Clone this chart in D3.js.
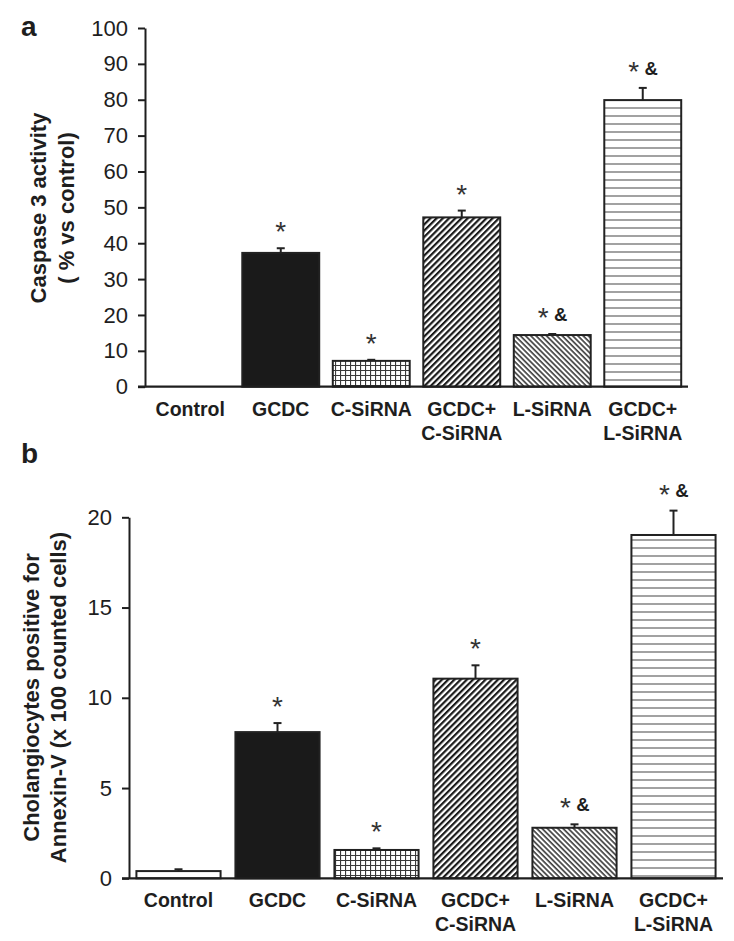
<!DOCTYPE html>
<html><head><meta charset="utf-8">
<script src="https://cdn.jsdelivr.net/npm/d3@7"></script>
<style>body{margin:0;background:#fff} svg{display:block}</style>
</head><body>
<script>
// ---------- data ----------
const categories = ["Control", "GCDC", "C-SiRNA", "GCDC+\nC-SiRNA", "L-SiRNA", "GCDC+\nL-SiRNA"];
const fillKinds = ["white", "solid", "grid", "diagUp", "diagDown", "horiz"];

const caspaseValues = [0, 37.3, 7.2, 47.2, 14.4, 79.9];
const caspaseErrors = [0, 1.3, 0.3, 1.9, 0.3, 3.4];
const caspaseMarks = ["", "*", "*", "*", "*&", "*&"];
const caspaseTicks = [0, 10, 20, 30, 40, 50, 60, 70, 80, 90, 100];

const annexinValues = [0.4, 8.1, 1.57, 11.06, 2.8, 19.02];
const annexinErrors = [0.1, 0.5, 0.09, 0.74, 0.19, 1.35];
const annexinMarks = ["", "*", "*", "*", "*&", "*&"];
const annexinTicks = [0, 5, 10, 15, 20];

// ---------- layout ----------
const W = 734, H = 941;
const FONT = "'Liberation Sans', Arial, Helvetica, sans-serif";
const INK = "#1e1e1e";

const svg = d3.select("body").append("svg").attr("width", W).attr("height", H);
const defs = svg.append("defs");

// patterns
const pGrid = defs.append("pattern").attr("id", "grid").attr("patternUnits", "userSpaceOnUse")
  .attr("width", 5).attr("height", 5);
pGrid.append("rect").attr("width", 5).attr("height", 5).attr("fill", "#fff");
pGrid.append("path").attr("d", "M0 0.5 H5 M0.5 0 V5").attr("stroke", "#3a3a3a").attr("stroke-width", 1.2);

const pUp = defs.append("pattern").attr("id", "diagUp").attr("patternUnits", "userSpaceOnUse")
  .attr("width", 4.4).attr("height", 10).attr("patternTransform", "rotate(45)");
pUp.append("rect").attr("width", 4.4).attr("height", 10).attr("fill", "#fff");
pUp.append("line").attr("x1", 1.1).attr("x2", 1.1).attr("y1", 0).attr("y2", 10)
  .attr("stroke", "#1a1a1a").attr("stroke-width", 2.2);

const pDown = defs.append("pattern").attr("id", "diagDown").attr("patternUnits", "userSpaceOnUse")
  .attr("width", 3.7).attr("height", 10).attr("patternTransform", "rotate(-45)");
pDown.append("rect").attr("width", 3.7).attr("height", 10).attr("fill", "#fff");
pDown.append("line").attr("x1", 1).attr("x2", 1).attr("y1", 0).attr("y2", 10)
  .attr("stroke", "#2a2a2a").attr("stroke-width", 1.5);

const pH = defs.append("pattern").attr("id", "horiz").attr("patternUnits", "userSpaceOnUse")
  .attr("width", 10).attr("height", 8);
pH.append("rect").attr("width", 10).attr("height", 8).attr("fill", "#fff");
pH.append("line").attr("x1", 0).attr("x2", 10).attr("y1", 4).attr("y2", 4)
  .attr("stroke", "#555").attr("stroke-width", 1.1);

function fillFor(kind) {
  if (kind === "white") return "#fff";
  if (kind === "solid") return "#1a1a1a";
  return `url(#${kind})`;
}

const panels = [
  { letter: "a", letterX: 21, letterY: 36,
    left: 145, right: 688, top: 28, bottom: 386.7,
    yMax: 100, ticks: caspaseTicks, values: caspaseValues, errors: caspaseErrors, marks: caspaseMarks,
    title: ["Caspase 3 activity", "( % vs control)"], titleX: [45.5, 73.7], titleY: 208,
    catY: 416 },
  { letter: "b", letterX: 21, letterY: 463,
    left: 129, right: 723, top: 517.3, bottom: 878.3,
    yMax: 20, ticks: annexinTicks, values: annexinValues, errors: annexinErrors, marks: annexinMarks,
    title: ["Cholangiocytes positive for", "Annexin-V (x 100 counted cells)"], titleX: [38.5, 66], titleY: 697.5,
    catY: 907 }
];

panels.forEach(p => {
  const g = svg.append("g");
  const x = d3.scaleBand().domain(categories).range([p.left, p.right])
    .paddingInner(0.15).paddingOuter(0.075);
  const y = d3.scaleLinear().domain([0, p.yMax]).range([p.bottom, p.top]);
  const data = categories.map((c, i) => ({ c, v: p.values[i], e: p.errors[i], m: p.marks[i], f: fillKinds[i] }));

  // panel letter
  g.append("text").attr("x", p.letterX).attr("y", p.letterY).text(p.letter)
    .attr("font-family", FONT).attr("font-weight", "bold").attr("font-size", 28).attr("fill", INK);

  // y axis
  const ya = g.append("g").attr("transform", `translate(${p.left},0)`)
    .call(d3.axisLeft(y).tickValues(p.ticks).tickSize(7).tickSizeOuter(0).tickPadding(10));
  ya.select(".domain").attr("stroke", INK).attr("stroke-width", 2);
  ya.selectAll(".tick line").attr("stroke", INK).attr("stroke-width", 2);
  ya.selectAll(".tick text").attr("font-family", FONT).attr("font-size", 22).attr("fill", INK);

  // y title
  p.title.forEach((t, i) => {
    g.append("text").attr("transform", `translate(${p.titleX[i]},${p.titleY}) rotate(-90)`)
      .attr("text-anchor", "middle").attr("font-family", FONT).attr("font-weight", "bold")
      .attr("font-size", 22).attr("fill", INK).text(t);
  });

  // bars
  g.selectAll("rect.bar").data(data).join("rect").attr("class", "bar")
    .attr("x", d => x(d.c)).attr("width", x.bandwidth())
    .attr("y", d => y(d.v)).attr("height", d => y(0) - y(d.v))
    .attr("fill", d => fillFor(d.f))
    .attr("stroke", d => d.v > 0 ? "#222" : "none").attr("stroke-width", 2);

  // error bars
  const eb = g.selectAll("g.err").data(data.filter(d => d.e > 0)).join("g").attr("class", "err");
  eb.append("line")
    .attr("x1", d => x(d.c) + x.bandwidth() / 2).attr("x2", d => x(d.c) + x.bandwidth() / 2)
    .attr("y1", d => y(d.v)).attr("y2", d => y(d.v + d.e))
    .attr("stroke", "#222").attr("stroke-width", 2);
  eb.append("line")
    .attr("x1", d => x(d.c) + x.bandwidth() / 2 - 4).attr("x2", d => x(d.c) + x.bandwidth() / 2 + 4)
    .attr("y1", d => y(d.v + d.e)).attr("y2", d => y(d.v + d.e))
    .attr("stroke", "#222").attr("stroke-width", 2);

  // x axis line
  g.append("line").attr("x1", p.left - 7).attr("x2", p.right).attr("y1", y(0)).attr("y2", y(0))
    .attr("stroke", INK).attr("stroke-width", 2.2);

  // significance marks
  data.forEach(d => {
    if (!d.m) return;
    const cx = x(d.c) + x.bandwidth() / 2;
    const cy = y(d.v + d.e) - 20;
    const hasAmp = d.m.includes("&");
    const starX = hasAmp ? cx - 9 : cx;
    g.append("text").attr("x", starX).attr("y", cy + 13).attr("text-anchor", "middle")
      .attr("font-family", FONT).attr("font-size", 28).attr("fill", "#333").text("*");
    if (hasAmp) {
      g.append("text").attr("x", cx + 8.5).attr("y", cy + 6.6).attr("text-anchor", "middle")
        .attr("font-family", FONT).attr("font-weight", "bold").attr("font-size", 18.5).attr("fill", INK).text("&");
    }
  });

  // category labels
  data.forEach(d => {
    const cx = x(d.c) + x.bandwidth() / 2;
    d.c.split("\n").forEach((line, i) => {
      g.append("text").attr("x", cx).attr("y", p.catY + i * 24).attr("text-anchor", "middle")
        .attr("font-family", FONT).attr("font-weight", "bold").attr("font-size", 19.5).attr("fill", INK)
        .text(line);
    });
  });
});
</script>
</body></html>
